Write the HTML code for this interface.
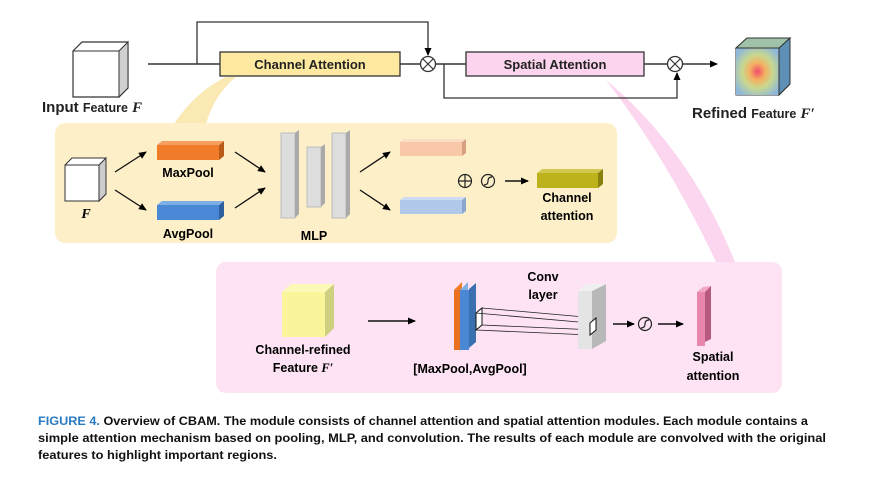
<!DOCTYPE html>
<html><head><meta charset="utf-8"><style>
html,body{margin:0;padding:0;background:#fff;}
svg{display:block;font-family:"Liberation Sans",sans-serif;}
</style></head><body>
<svg width="877" height="486" viewBox="0 0 877 486" xmlns="http://www.w3.org/2000/svg">
<defs>
<marker id="ar" markerWidth="8" markerHeight="8" refX="7" refY="4" orient="auto" markerUnits="userSpaceOnUse"><path d="M0,0.5 L8,4 L0,7.5 Z" fill="#000"/></marker>
<radialGradient id="heat" cx="0.5" cy="0.5" r="0.6"><stop offset="0" stop-color="#f24b6e"/><stop offset="0.3" stop-color="#f5b060"/><stop offset="0.6" stop-color="#c8d890"/><stop offset="1" stop-color="#8fb8d8"/></radialGradient>
</defs>
<!-- funnels -->
<path d="M226,77 L236,77 Q214,95 206,124 L174,124 Q195,92 226,77 Z" fill="#fbe9b4"/>
<path d="M606,80 Q690,150 735,262 L716,262 Q668,160 606,80 Z" fill="#fbd6ee"/>
<!-- panels -->
<rect x="55" y="123" width="562" height="120" rx="10" fill="#fdf0c8"/>
<rect x="216" y="262" width="566" height="131" rx="10" fill="#fde3f3"/>

<!-- top input cube -->
<polygon points="73,51 82,42 128,42 128,88 119,97 73,97" fill="#fff" stroke="#333" stroke-width="1.2"/>
<polygon points="119,51 128,42 128,88 119,97" fill="#d0d0d0" stroke="#333" stroke-width="1"/>
<line x1="73" y1="51" x2="119" y2="51" stroke="#333"/>
<text x="42" y="112" font-size="15" font-weight="bold" fill="#222">Input <tspan font-size="12.5">Feature</tspan> <tspan font-family="Liberation Serif" font-style="italic">F</tspan></text>

<!-- main line -->
<line x1="148" y1="64" x2="220" y2="64" stroke="#333" stroke-width="1.5"/>
<polyline points="197,64 197,22 428,22 428,55" fill="none" stroke="#333" stroke-width="1.3" marker-end="url(#ar)"/>
<rect x="220" y="52" width="180" height="24" fill="#fde9a0" stroke="#333" stroke-width="1.3"/>
<text x="310" y="69" font-size="13" font-weight="bold" text-anchor="middle" fill="#222">Channel Attention</text>
<line x1="400" y1="64" x2="420" y2="64" stroke="#333" stroke-width="1.5"/>
<circle cx="428" cy="64" r="7.5" fill="#fff" stroke="#333" stroke-width="1.3"/>
<path d="M423,59 L433,69 M433,59 L423,69" stroke="#333" stroke-width="1.2"/>
<line x1="436" y1="64" x2="466" y2="64" stroke="#333" stroke-width="1.5"/>
<polyline points="444,64 444,98 677,98 677,73" fill="none" stroke="#333" stroke-width="1.3" marker-end="url(#ar)"/>
<rect x="466" y="52" width="178" height="24" fill="#fcd4ee" stroke="#333" stroke-width="1.3"/>
<text x="555" y="69" font-size="13" font-weight="bold" text-anchor="middle" fill="#222">Spatial Attention</text>
<line x1="644" y1="64" x2="667" y2="64" stroke="#333" stroke-width="1.5"/>
<circle cx="675" cy="64" r="7.5" fill="#fff" stroke="#333" stroke-width="1.3"/>
<path d="M670,59 L680,69 M680,59 L670,69" stroke="#333" stroke-width="1.2"/>
<line x1="683" y1="64" x2="717" y2="64" stroke="#333" stroke-width="1.5" marker-end="url(#ar)"/>
<!-- refined cube -->
<polygon points="736,48 747,38 790,38 790,84 779,95 736,95" fill="#8fb8d8" stroke="#333"/>
<rect x="736" y="48" width="43" height="47" fill="url(#heat)"/>
<polygon points="779,48 790,38 790,84 779,95" fill="#5e8fb5" stroke="#333"/>
<polygon points="736,48 747,38 790,38 779,48" fill="#9fc2a8" stroke="#333"/>
<text x="692" y="118" font-size="15" font-weight="bold" fill="#222">Refined <tspan font-size="12.5">Feature</tspan> <tspan font-family="Liberation Serif" font-style="italic">F′</tspan></text>

<!-- channel panel contents -->
<polygon points="65,165 72,158 106,158 106,194 99,201 65,201" fill="#fff" stroke="#333"/>
<polygon points="99,165 106,158 106,194 99,201" fill="#ccc" stroke="#333"/>
<line x1="65" y1="165" x2="99" y2="165" stroke="#333"/>
<text x="86" y="218" font-size="14" font-family="Liberation Serif" font-style="italic" font-weight="bold" text-anchor="middle">F</text>
<line x1="115" y1="172" x2="146" y2="152" stroke="#111" stroke-width="1.3" marker-end="url(#ar)"/>
<line x1="115" y1="190" x2="146" y2="210" stroke="#111" stroke-width="1.3" marker-end="url(#ar)"/>
<rect x="157" y="145" width="62" height="15" fill="#f07c2a"/><polygon points="219,145 224,141 224,156 219,160" fill="#b85a18"/><polygon points="157,145 162,141 224,141 219,145" fill="#f5a060"/>
<text x="188" y="177" font-size="12.5" font-weight="bold" text-anchor="middle">MaxPool</text>
<rect x="157" y="205" width="62" height="15" fill="#4a88d6"/><polygon points="219,205 224,201 224,216 219,220" fill="#2e5f9e"/><polygon points="157,205 162,201 224,201 219,205" fill="#7eaee6"/>
<text x="188" y="238" font-size="12.5" font-weight="bold" text-anchor="middle">AvgPool</text>
<line x1="235" y1="152" x2="265" y2="172" stroke="#111" stroke-width="1.3" marker-end="url(#ar)"/>
<line x1="235" y1="208" x2="265" y2="188" stroke="#111" stroke-width="1.3" marker-end="url(#ar)"/>
<rect x="281" y="133" width="14" height="85" fill="#ddd" stroke="#bbb"/><polygon points="295,133 299,130 299,214 295,218" fill="#aaa"/>
<rect x="307" y="147" width="14" height="60" fill="#ddd" stroke="#bbb"/><polygon points="321,147 325,144 325,203 321,207" fill="#aaa"/>
<rect x="332" y="133" width="14" height="85" fill="#ddd" stroke="#bbb"/><polygon points="346,133 350,130 350,214 346,218" fill="#aaa"/>
<text x="314" y="240" font-size="12.5" font-weight="bold" text-anchor="middle">MLP</text>
<line x1="360" y1="172" x2="390" y2="152" stroke="#111" stroke-width="1.3" marker-end="url(#ar)"/>
<line x1="360" y1="190" x2="390" y2="210" stroke="#111" stroke-width="1.3" marker-end="url(#ar)"/>
<rect x="400" y="142" width="62" height="14" fill="#f8c8a8"/><polygon points="462,142 466,139 466,153 462,156" fill="#d8a080"/><polygon points="400,142 404,139 466,139 462,142" fill="#fbdcc6"/>
<rect x="400" y="200" width="62" height="14" fill="#b0c8ea"/><polygon points="462,200 466,197 466,211 462,214" fill="#8aa6cc"/><polygon points="400,200 404,197 466,197 462,200" fill="#cddcf2"/>
<circle cx="465" cy="181" r="6.5" fill="none" stroke="#222" stroke-width="1.2"/><path d="M458.5,181 H471.5 M465,174.5 V187.5" stroke="#222" stroke-width="1.2"/>
<circle cx="488" cy="181" r="6.5" fill="none" stroke="#222" stroke-width="1.2"/><path d="M484,185 Q488,185 488,181 Q488,177 492,177" fill="none" stroke="#222" stroke-width="1.2"/>
<line x1="505" y1="181" x2="528" y2="181" stroke="#111" stroke-width="1.5" marker-end="url(#ar)"/>
<rect x="537" y="173" width="61" height="15" fill="#bdb11c"/><polygon points="598,173 603,169 603,184 598,188" fill="#8a800e"/><polygon points="537,173 542,169 603,169 598,173" fill="#d2c850"/>
<text x="567" y="202" font-size="12.5" font-weight="bold" text-anchor="middle">Channel</text>
<text x="567" y="220" font-size="12.5" font-weight="bold" text-anchor="middle">attention</text>

<!-- spatial panel contents -->
<rect x="282" y="292" width="43" height="45" fill="#faf59a"/><polygon points="325,292 334,284 334,328 325,337" fill="#cfcf80"/><polygon points="282,292 291,284 334,284 325,292" fill="#fbf8b8"/>
<text x="303" y="354" font-size="12.5" font-weight="bold" text-anchor="middle">Channel-refined</text>
<text x="303" y="372" font-size="12.5" font-weight="bold" text-anchor="middle">Feature <tspan font-family="Liberation Serif" font-style="italic">F′</tspan></text>
<line x1="368" y1="321" x2="415" y2="321" stroke="#111" stroke-width="1.5" marker-end="url(#ar)"/>
<polygon points="454,290 462,282 462,342 454,350" fill="#f07c2a"/>
<rect x="454" y="290" width="6" height="60" fill="#e8701e"/>
<polygon points="460,290 468,282 468,342 460,350" fill="#7eb0e0"/>
<rect x="460" y="290" width="9" height="60" fill="#4a88d6"/>
<polygon points="469,289 476,283 476,342 469,348" fill="#3a70b0"/>
<polygon points="476,313 482,308 482,325 476,330" fill="#fff" stroke="#111"/>
<path d="M482,308 L596,318 M482,325 L596,330 M476,313 L590,323 M476,330 L590,335" stroke="#222" stroke-width="0.8"/>
<text x="470" y="373" font-size="12.5" font-weight="bold" text-anchor="middle">[MaxPool,AvgPool]</text>
<text x="543" y="281" font-size="12.5" font-weight="bold" text-anchor="middle">Conv</text>
<text x="543" y="299" font-size="12.5" font-weight="bold" text-anchor="middle">layer</text>
<rect x="578" y="291" width="14" height="58" fill="#e4e4e4"/><polygon points="592,291 606,284 606,341 592,349" fill="#b8b8b8"/><polygon points="578,291 586,284 606,284 592,291" fill="#f0f0f0"/>
<polygon points="590,323 596,318 596,330 590,335" fill="#fff" stroke="#111"/>
<line x1="613" y1="324" x2="634" y2="324" stroke="#111" stroke-width="1.5" marker-end="url(#ar)"/>
<circle cx="645" cy="324" r="6.5" fill="none" stroke="#222" stroke-width="1.2"/><path d="M641,328 Q645,328 645,324 Q645,320 649,320" fill="none" stroke="#222" stroke-width="1.2"/>
<line x1="658" y1="324" x2="683" y2="324" stroke="#111" stroke-width="1.5" marker-end="url(#ar)"/>
<polygon points="697,292 711,286 711,339 697,346" fill="#b85a80"/>
<rect x="697" y="292" width="8" height="54" fill="#e886ae"/>
<polygon points="697,292 703,287 711,286 705,292" fill="#f0a8c6"/>
<text x="713" y="361" font-size="12.5" font-weight="bold" text-anchor="middle">Spatial</text>
<text x="713" y="380" font-size="12.5" font-weight="bold" text-anchor="middle">attention</text>

<!-- caption -->
<text x="38" y="425" font-size="12" font-weight="bold" fill="#111" textLength="770" lengthAdjust="spacingAndGlyphs"><tspan fill="#2b7bc0">FIGURE 4.</tspan>  Overview of CBAM. The module consists of channel attention and spatial attention modules. Each module contains a</text>
<text x="38" y="442" font-size="12" font-weight="bold" fill="#111" textLength="788" lengthAdjust="spacingAndGlyphs">simple attention mechanism based on pooling, MLP, and convolution. The results of each module are convolved with the original</text>
<text x="38" y="459" font-size="12" font-weight="bold" fill="#111" textLength="239" lengthAdjust="spacingAndGlyphs">features to highlight important regions.</text>
</svg>
</body></html>
